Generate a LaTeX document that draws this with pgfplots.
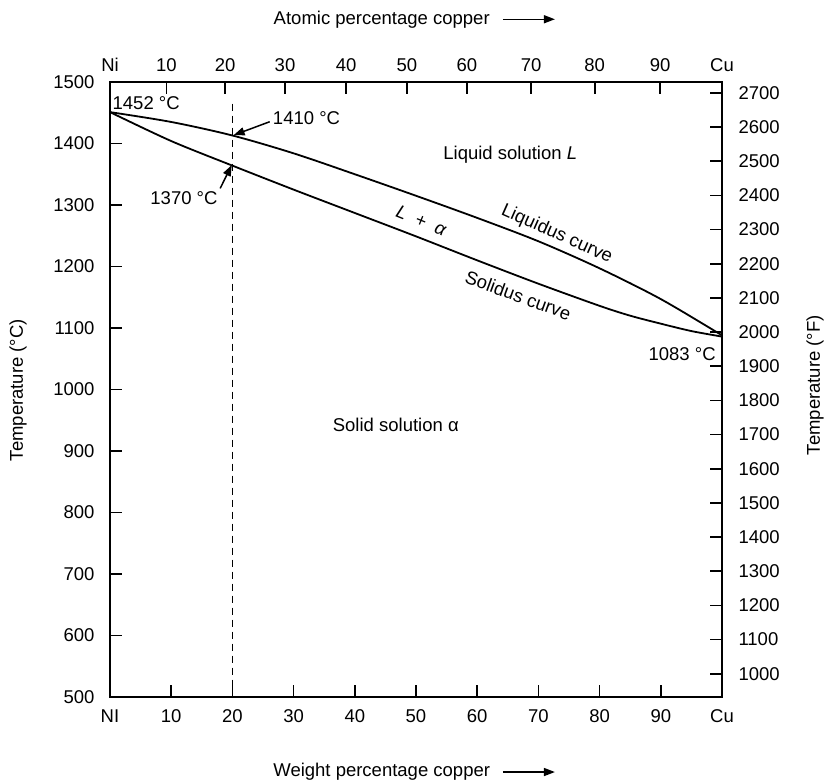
\documentclass[border=0pt]{standalone}
\usepackage{fontspec}
\setmainfont{Liberation Sans}
\usepackage{pgfplots}
\pgfplotsset{compat=1.18}
\usetikzlibrary{arrows.meta}

\pgfplotstableread{
x T
0 1451
10 1435
20 1413
30 1384
40 1350
50 1315
60 1279
70 1241
80 1197
90 1147
100 1088
}\liquidus

\pgfplotstableread{
x T
0 1451
10 1404
20 1364
30 1325
40 1287
50 1249
60 1210
70 1172
80 1136
85 1120
90 1107
95 1095
100 1086
}\solidus

\begin{document}
\begin{tikzpicture}[font=\fontsize{18.5}{21}\selectfont]
\path[use as bounding box] (-110pt,-86pt) rectangle (717pt,697pt);
\begin{axis}[
  at={(0pt,0pt)}, anchor=south west,
  scale only axis, width=612pt, height=615pt,
  xmin=0, xmax=100, ymin=500, ymax=1500,
  clip=false,
  axis line style={line width=2.2pt},
  tick style={line width=1.6pt, black},
  tick align=inside, major tick length=12pt,
  xtick pos=left, ytick pos=left,
  xtick={0,10,...,100},
  xticklabels={NI,10,20,30,40,50,60,70,80,90,Cu},
  ytick={500,600,...,1500},
  /pgf/number format/assume math mode=true,
  /pgf/number format/1000 sep={},
  xticklabel style={yshift=-9pt},
  yticklabel style={xshift=-12pt},
]
\addplot[black, line width=1.8pt, smooth, tension=0.5] table[x=x,y=T] {\liquidus};
\addplot[black, line width=1.8pt, smooth, tension=0.5] table[x=x,y=T] {\solidus};
\addplot[black, line width=1.5pt, dash pattern=on 7pt off 5pt] coordinates {(20,1465) (20,500)};

\draw[black, line width=1.5pt, -{Triangle[length=11pt,width=8pt]}] (axis cs:26.1,1435.4) -- (axis cs:20.2,1413.5);
\draw[black, line width=1.5pt, -{Triangle[length=11pt,width=8pt]}] (axis cs:18.0,1327) -- (axis cs:19.9,1365);

\node[anchor=west, inner sep=0pt] at (axis cs:0.4,1466) {1452 °C};
\node[anchor=west, inner sep=0pt] at (axis cs:26.6,1441.5) {1410 °C};
\node[anchor=east, inner sep=0pt] at (axis cs:17.6,1311.4) {1370 °C};
\node[anchor=east, inner sep=0pt] at (axis cs:99.0,1057) {1083 °C};

\node at (axis cs:65.4,1381) {Liquid solution \textit{L}};
\node[rotate=-22] at (axis cs:50.9,1274.6) {\textit{L}~~+~~\textit{α}};
\node[rotate=-24] at (axis cs:73.0,1252) {Liquidus curve};
\node[rotate=-20] at (axis cs:66.7,1153) {Solidus curve};
\node at (axis cs:46.7,942.3) {Solid solution α};

\node[rotate=90] at (axis cs:-15.0,999) {Temperature (°C)};
\node[rotate=90] at (axis cs:115.2,1007) {Temperature (°F)};

\node at (axis cs:44.4,1602) {Atomic percentage copper};
\draw[black, line width=1.5pt, -{Triangle[length=11pt,width=8pt]}] (axis cs:64.2,1602) -- (axis cs:72.7,1602);
\node at (axis cs:44.4,378) {Weight percentage copper};
\draw[black, line width=1.5pt, -{Triangle[length=11pt,width=8pt]}] (axis cs:64.2,378) -- (axis cs:72.7,378);
\end{axis}

\begin{axis}[
  at={(0pt,0pt)}, anchor=south west,
  scale only axis, width=612pt, height=615pt,
  xmin=0, xmax=100, ymin=932, ymax=2732,
  axis line style={line width=2.2pt},
  tick style={line width=1.6pt, black},
  tick align=inside, major tick length=12pt,
  xtick pos=right, ytick pos=right,
  xticklabel pos=right, yticklabel pos=right,
  xtick={0,9.2,18.8,28.6,38.6,48.5,58.3,68.8,79.2,89.9,100},
  xticklabels={Ni,10,20,30,40,50,60,70,80,90,Cu},
  ytick={1000,1100,...,2700},
  /pgf/number format/assume math mode=true,
  /pgf/number format/1000 sep={},
  xticklabel style={yshift=7pt},
  yticklabel style={xshift=13pt},
]
\end{axis}
\end{tikzpicture}
\end{document}
